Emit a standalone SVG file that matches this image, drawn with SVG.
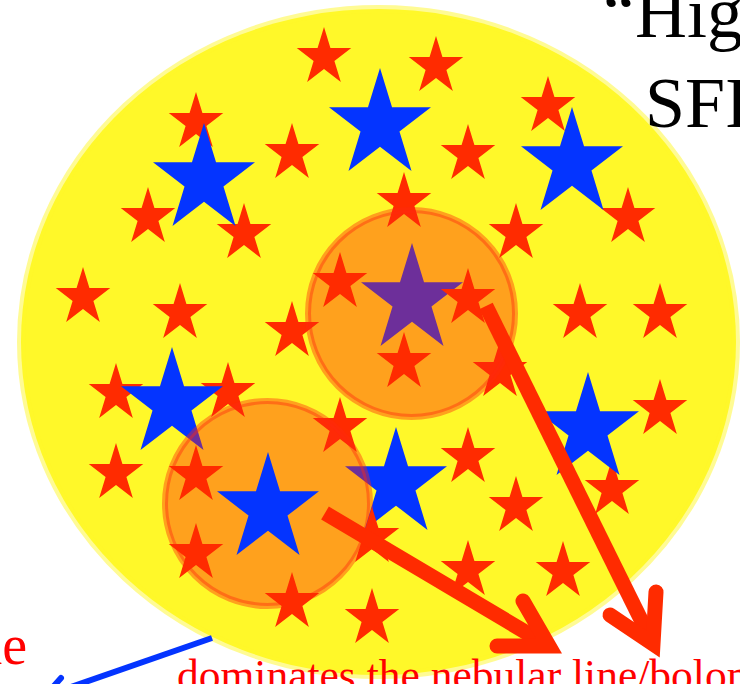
<svg xmlns="http://www.w3.org/2000/svg" xmlns:xlink="http://www.w3.org/1999/xlink" width="740" height="684" viewBox="0 0 740 684">
<style>
.red{fill:#FF2B00}
.blue{fill:#0434FF}
.cl{fill:rgb(255,40,14);fill-opacity:0.42;stroke:rgb(255,40,14);stroke-opacity:0.42;stroke-width:6}
.shaft{stroke:#FF2B00;stroke-width:15;fill:none;stroke-linecap:butt}
.head{stroke:#FF2B00;stroke-width:15;fill:none;stroke-linecap:round;stroke-linejoin:miter;stroke-miterlimit:10}
.bl{stroke:#0434FF;stroke-width:6;fill:none}
.t{font-family:"Liberation Serif","Times New Roman",serif}
</style>
<defs>
<path id="star" d="M0,-1 L0.2245,-0.309 L0.9511,-0.309 L0.3633,0.118 L0.5878,0.809 L0,0.382 L-0.5878,0.809 L-0.3633,0.118 L-0.9511,-0.309 L-0.2245,-0.309 Z"/>
<use id="rs" xlink:href="#star" href="#star" transform="translate(0,30.4) scale(28.65,30.4)"/>
<use id="bs" xlink:href="#star" href="#star" transform="translate(0,56.9) scale(53.6,56.9)"/>
</defs>
<g id="galaxy">
<ellipse cx="378.5" cy="342" rx="357.5" ry="333" fill="#FFF829" stroke="#FFF829" stroke-opacity="0.5" stroke-width="8"/>
</g>
<g id="red-stars" class="red">
<use href="#rs" x="324" y="27"/>
<use href="#rs" x="436" y="36"/>
<use href="#rs" x="196" y="92"/>
<use href="#rs" x="548" y="76"/>
<use href="#rs" x="292" y="123"/>
<use href="#rs" x="468" y="124"/>
<use href="#rs" x="148" y="187"/>
<use href="#rs" x="244" y="203"/>
<use href="#rs" x="404" y="172"/>
<use href="#rs" x="516" y="203"/>
<use href="#rs" x="628" y="187"/>
<use href="#rs" x="83" y="267"/>
<use href="#rs" x="180" y="283"/>
<use href="#rs" x="292" y="301"/>
<use href="#rs" x="580" y="283"/>
<use href="#rs" x="660" y="283"/>
<use href="#rs" x="500" y="341"/>
<use href="#rs" x="116" y="363"/>
<use href="#rs" x="228" y="362"/>
<use href="#rs" x="340" y="397"/>
<use href="#rs" x="660" y="379"/>
<use href="#rs" x="116" y="443"/>
<use href="#rs" x="468" y="427"/>
<use href="#rs" x="516" y="476"/>
<use href="#rs" x="612" y="459"/>
<use href="#rs" x="468" y="540"/>
<use href="#rs" x="563" y="541"/>
<use href="#rs" x="372" y="588"/>
</g>
<g id="blue-stars" class="blue">
<use href="#bs" x="204" y="123"/>
<use href="#bs" x="380" y="68"/>
<use href="#bs" x="572" y="107"/>
<use href="#bs" x="172" y="347"/>
<use href="#bs" x="396" y="427"/>
<use href="#bs" x="588" y="372"/>
<use href="#bs" x="412" y="243"/>
</g>
<g id="cluster-upper">
<circle class="cl" cx="411.5" cy="313.5" r="103.5"/>
<g class="red">
<use href="#rs" x="340" y="252"/>
<use href="#rs" x="468" y="268"/>
<use href="#rs" x="404" y="332"/>
</g>
</g>
<g id="cluster-lower">
<circle class="cl" cx="267.5" cy="503.5" r="102.5"/>
<use class="blue" href="#bs" x="268" y="452"/>
<g class="red">
<use href="#rs" x="196" y="445"/>
<use href="#rs" x="196" y="523"/>
<use href="#rs" x="292" y="572"/>
<use href="#rs" x="372" y="507"/>
</g>
</g>
<g id="connectors">
<line class="shaft" x1="325" y1="513" x2="549" y2="646"/>
<polyline class="head" points="523,601 549,646 497,646"/>
<line class="shaft" x1="486" y1="306" x2="653" y2="644"/>
<polyline class="head" points="656,592 653,644 610,615"/>
<line class="bl" x1="212" y1="638" x2="45" y2="696"/>
<polyline class="bl" points="61,678 45,696" stroke-linecap="round"/>
</g>
<g id="labels" class="t">
<text x="603" y="37" font-size="72" fill="#000">“Hig</text>
<text x="645" y="127" font-size="72" fill="#000">SFI</text>
<text x="27" y="664" font-size="56" fill="#F00" text-anchor="end">ne</text>
<text x="177" y="690" font-size="43.5" fill="#F00">dominates the nebular line/bolom</text>
</g>
</svg>
